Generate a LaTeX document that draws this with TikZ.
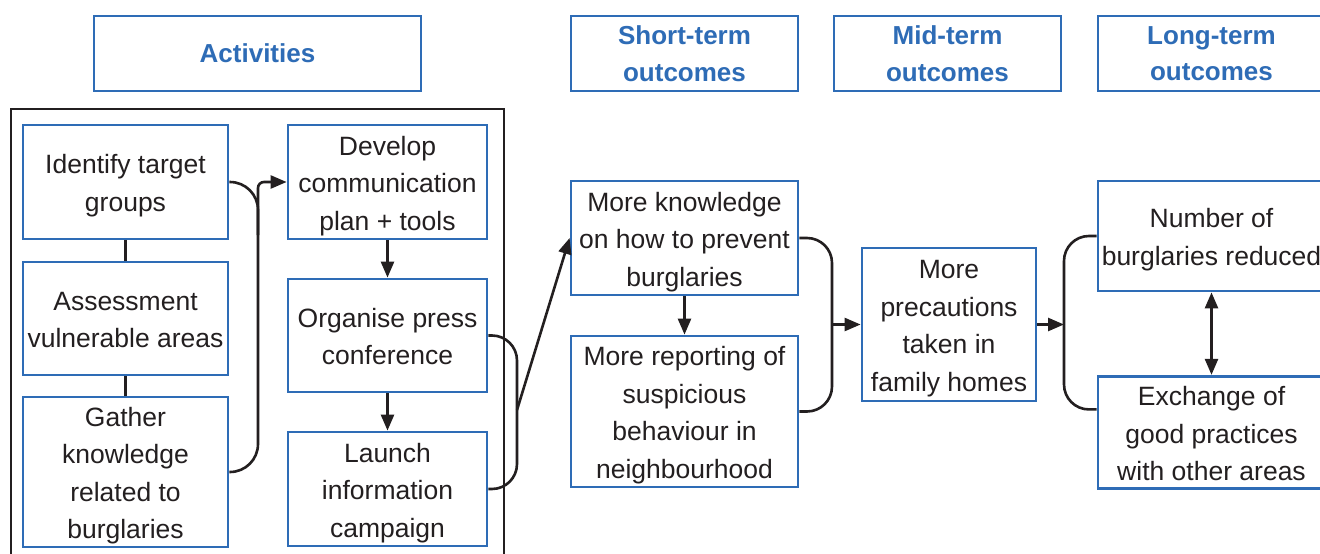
\documentclass[tikz,border=0pt]{standalone}
\usepackage{fontspec}
\setmainfont{Liberation Sans}
\usetikzlibrary{arrows.meta,calc}
\definecolor{bblue}{RGB}{46,108,182}
\definecolor{tblack}{RGB}{35,31,32}
\newcommand{\mlines}[1]{\raisebox{-3pt}[\height][\depth]{\begin{tabular}{@{}c@{}}#1\end{tabular}}}
\begin{document}
\begin{tikzpicture}[x=1pt,y=-1pt,
  box/.style={draw=bblue, line width=2.8pt, inner sep=0pt, align=center, text=tblack,
    font=\fontsize{26.5}{37.5}\selectfont},
  head/.style={draw=bblue, line width=2.8pt, inner sep=0pt, align=center, text=bblue,
    font=\fontsize{26}{36.5}\selectfont\bfseries, minimum width=227pt, minimum height=75pt},
  conn/.style={draw=tblack, line width=2.6pt},
  arr/.style={conn, -{Triangle[length=16pt,width=13pt]}},
  darr/.style={conn, {Triangle[length=16pt,width=13pt]}-{Triangle[length=16pt,width=13pt]}}]
\useasboundingbox (0,0) rectangle (1320,554);
\clip (0,0) rectangle (1320,554);
\fill[white] (0,0) rectangle (1320,554);

% headers
\node[head, minimum width=327pt] (hact) at (257.5,53.5) {Activities};
\node[head] (hst) at (684.5,53.5) {Short-term\\outcomes};
\node[head] (hmt) at (947.5,53.5) {Mid-term\\outcomes};
\node[head] (hlt) at (1211.5,53.5) {Long-term\\outcomes};

% activities frame
\draw[conn, line width=2.8pt] (11,109) rectangle (504,580);

% left column
\node[box, minimum width=205pt, minimum height=114pt] (idf) at (125.5,182) {\mlines{Identify target\\groups}};
\node[box, minimum width=205pt, minimum height=113pt] (ass) at (125.5,318.5) {\mlines{Assessment\\vulnerable areas}};
\node[box, minimum width=205pt, minimum height=148pt] (gat) at (125.5,472) {\mlines{Gather\\knowledge\\related to\\burglaries}};

% middle column
\node[box, minimum width=199pt, minimum height=114pt] (dev) at (387.5,182) {\mlines{Develop\\communication\\plan + tools}};
\node[box, minimum width=199pt, minimum height=113pt] (org) at (387.5,335.5) {\mlines{Organise press\\conference}};
\node[box, minimum width=199pt, minimum height=114pt] (lau) at (387.5,489) {\mlines{Launch\\information\\campaign}};

% short-term
\node[box, minimum width=227pt, minimum height=114pt] (mk) at (684.5,238) {\mlines{More knowledge\\on how to prevent\\burglaries}};
\node[box, minimum width=227pt, minimum height=151pt] (mr) at (684.5,411.5) {\mlines{More reporting of\\suspicious\\behaviour in\\neighbourhood}};

% mid-term
\node[box, minimum width=174pt, minimum height=153pt] (mid) at (949,324.5) {\mlines{More\\precautions\\taken in\\family homes}};

% long-term
\node[box, minimum width=227pt, minimum height=110pt] (num) at (1211.5,236) {\mlines{Number of\\burglaries reduced}};
\node[box, minimum width=227pt, minimum height=109pt] (exc) at (1211.5,432.5) {\mlines{Exchange of\\good practices\\with other areas}};

% connectors in activities
\draw[conn] (idf) -- (ass);
\draw[conn] (ass) -- (gat);
\draw[arr] (dev) -- (org);
\draw[arr] (org) -- (lau);

% bracket 1
\coordinate (v1) at (258,324);
\coordinate (a1) at (258,235);
\draw[conn, rounded corners=28pt] (idf.east) -| (v1) |- (gat.east);
\draw[arr, rounded corners=6pt] (a1) |- (dev.west);

% bracket 2
\coordinate (v2) at (517,410);
\draw[conn, rounded corners=25pt] (org.east) -| (v2) |- (lau.east);
\draw[arr] (v2) -- (mk.west);

% short-term
\draw[arr] (mk) -- (mr);

% bracket 3
\coordinate (v3) at (832,324.5);
\draw[conn, rounded corners=25pt] (mk.east) -| (v3) |- (mr.east);
\draw[arr] (v3) -- (mid.west);

% bracket 4
\coordinate (v4) at (1064,324.5);
\coordinate (e4) at ($(exc.north west)!0.3!(exc.south west)$);
\draw[conn, rounded corners=25pt] (num.west) -| (v4) |- (e4);
\draw[arr] (mid.east) -- (v4);

% long-term
\draw[darr] (num) -- (exc);
\end{tikzpicture}
\end{document}
